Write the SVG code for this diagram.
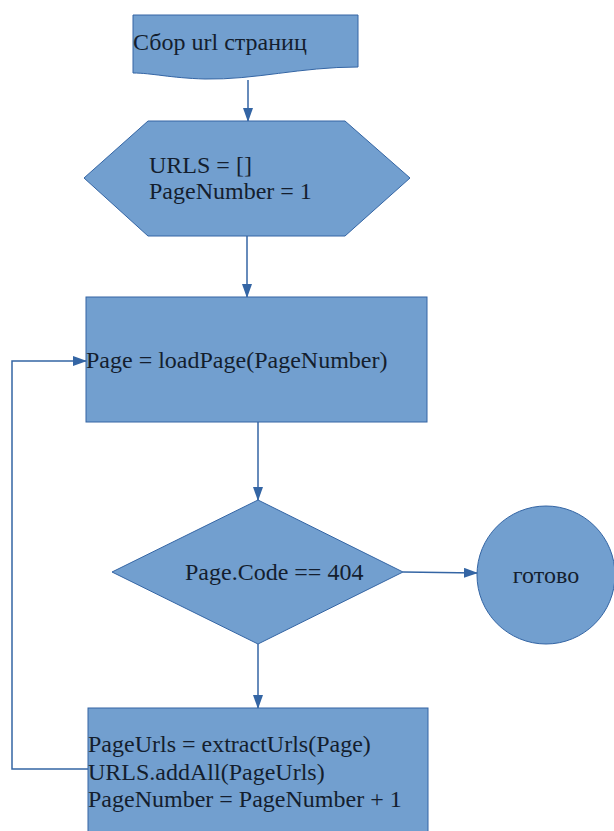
<svg xmlns="http://www.w3.org/2000/svg" width="614" height="831" viewBox="0 0 614 831">
<style>
.shape{fill:#729fcf;stroke:#3465a4;stroke-width:1}
.t{font-family:"Liberation Serif","Times New Roman",serif;font-size:24px;fill:#141e2e}
.c{fill:none;stroke:#3465a4;stroke-width:1.5}
</style>
<defs>
<marker id="ah" markerWidth="14" markerHeight="10" refX="13" refY="5" orient="auto" markerUnits="userSpaceOnUse">
<path d="M0,0 L14,5 L0,10 Z" fill="#3465a4"/>
</marker>
</defs>
<rect width="614" height="831" fill="#ffffff"/>
<g id="connectors">
<line class="c" x1="248" y1="80" x2="248" y2="121" marker-end="url(#ah)"/>
<line class="c" x1="247" y1="236" x2="247" y2="297" marker-end="url(#ah)"/>
<line class="c" x1="258" y1="422" x2="258" y2="500" marker-end="url(#ah)"/>
<line class="c" x1="403" y1="572" x2="477" y2="573" marker-end="url(#ah)"/>
<line class="c" x1="258" y1="644" x2="258" y2="708" marker-end="url(#ah)"/>
</g>
<g id="start">
<path class="shape" d="M133,15 H358 V67 C300,67 255,80 205,79 C170,78 152,73 133,73 Z"/>
<text class="t" x="133" y="50">Сбор url страниц</text>
</g>
<g id="init">
<polygon class="shape" points="84,178 148,121 345,121 410,178 345,236 148,236"/>
<text class="t" x="149" y="173">URLS = []</text>
<text class="t" x="149" y="199">PageNumber = 1</text>
</g>
<g id="load">
<rect class="shape" x="86" y="297" width="341" height="125"/>
<text class="t" x="86" y="368">Page = loadPage(PageNumber)</text>
</g>
<g id="check">
<polygon class="shape" points="258,500 403,572 258,644 112,572"/>
<text class="t" x="185" y="580">Page.Code == 404</text>
</g>
<g id="done">
<circle class="shape" cx="546" cy="575" r="69"/>
<text class="t" x="546" y="583" text-anchor="middle">готово</text>
</g>
<g id="process">
<rect class="shape" x="88" y="708" width="340" height="140"/>
<text class="t" x="88" y="752">PageUrls = extractUrls(Page)</text>
<text class="t" x="88" y="780">URLS.addAll(PageUrls)</text>
<text class="t" x="88" y="807">PageNumber = PageNumber + 1</text>
</g>
<g id="loop">
<polyline class="c" points="88,769 12,769 12,361 86,361" marker-end="url(#ah)"/>
</g>
</svg>
